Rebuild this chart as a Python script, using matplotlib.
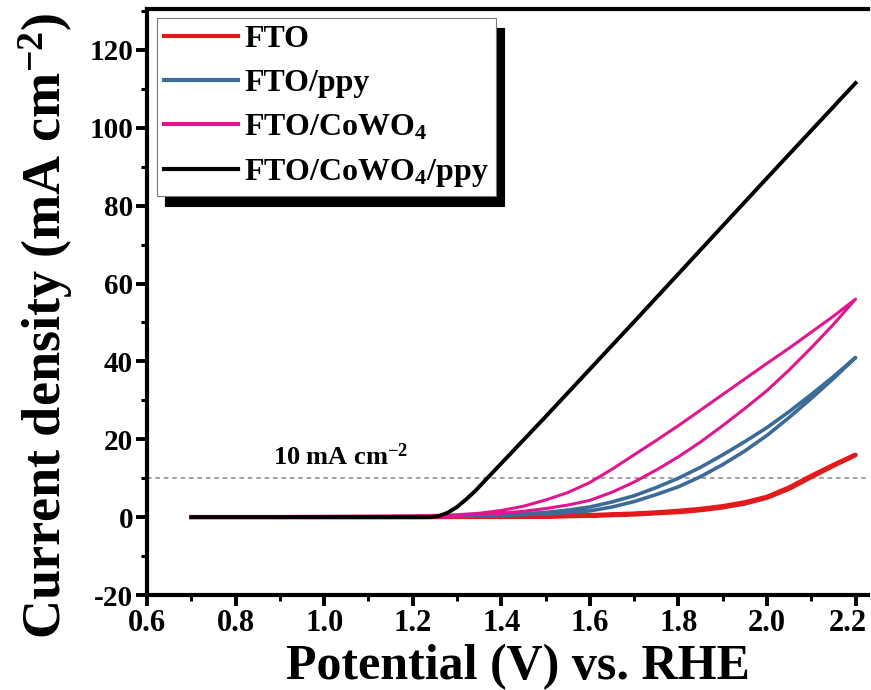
import matplotlib
matplotlib.use("Agg")
import matplotlib.pyplot as plt
from matplotlib.ticker import MultipleLocator
from matplotlib.transforms import ScaledTranslation

plt.rcParams['font.family'] = ['Liberation Serif', 'DejaVu Serif']
plt.rcParams['font.weight'] = 'bold'
plt.rcParams['mathtext.fontset'] = 'custom'
plt.rcParams['mathtext.rm'] = 'Liberation Serif:bold'
plt.rcParams['mathtext.bf'] = 'Liberation Serif:bold'
plt.rcParams['mathtext.it'] = 'Liberation Serif:bold:italic'

# ---- data ----
fto_fwd_x = [0.7, 1.0, 1.2, 1.4, 1.5, 1.6, 1.7, 1.75, 1.8, 1.85, 1.9, 1.95, 2.0, 2.05, 2.1, 2.15, 2.2]
fto_fwd_y = [0.0, 0.0, 0.0, 0.1, 0.25, 0.5, 0.9, 1.2, 1.6, 2.1, 2.8, 3.8, 5.2, 7.6, 10.6, 13.4, 16.0]
fto_rev_x = [2.2, 2.15, 2.1, 2.05, 2.0, 1.95, 1.9, 1.85, 1.8, 1.7, 1.6, 1.5, 1.4]
fto_rev_y = [16.0, 13.2, 10.3, 7.3, 5.0, 3.5, 2.5, 1.8, 1.3, 0.7, 0.35, 0.15, 0.05]

ppy_fwd_x = [0.7, 1.0, 1.2, 1.3, 1.4, 1.45, 1.5, 1.55, 1.6, 1.65, 1.7, 1.75, 1.8, 1.85, 1.9, 1.95, 2.0, 2.05, 2.1, 2.15, 2.2]
ppy_fwd_y = [0.0, 0.1, 0.15, 0.2, 0.4, 0.6, 0.85, 1.15, 1.6, 2.6, 4.0, 5.8, 7.8, 10.4, 13.5, 17.0, 21.0, 25.6, 30.5, 35.6, 41.0]
ppy_rev_x = [2.2, 2.15, 2.1, 2.05, 2.0, 1.95, 1.9, 1.85, 1.8, 1.75, 1.7, 1.65, 1.6, 1.55, 1.5, 1.45, 1.4, 1.35, 1.3]
ppy_rev_y = [41.0, 36.1, 31.5, 27.1, 23.0, 19.4, 16.0, 12.8, 10.0, 7.6, 5.5, 3.9, 2.6, 1.8, 1.2, 0.85, 0.6, 0.45, 0.3]

cowo_fwd_x = [0.73, 1.0, 1.2, 1.3, 1.35, 1.4, 1.45, 1.5, 1.55, 1.6, 1.65, 1.7, 1.75, 1.8, 1.85, 1.9, 1.95, 2.0, 2.05, 2.1, 2.15, 2.2]
cowo_fwd_y = [0.0, 0.1, 0.2, 0.4, 0.7, 1.0, 1.5, 2.2, 3.1, 4.3, 6.4, 9.0, 12.1, 15.5, 19.3, 23.5, 27.9, 32.5, 37.8, 43.5, 49.5, 56.0]
cowo_rev_x = [2.2, 2.15, 2.1, 2.05, 2.0, 1.95, 1.9, 1.85, 1.8, 1.75, 1.7, 1.65, 1.6, 1.55, 1.5, 1.45, 1.4, 1.35, 1.3, 1.2, 1.0, 0.73]
cowo_rev_y = [56.0, 51.6, 47.5, 43.4, 39.5, 35.5, 31.5, 27.5, 23.5, 19.7, 16.0, 12.3, 8.9, 6.3, 4.4, 2.8, 1.7, 1.0, 0.6, 0.3, 0.2, 0.1]

blk_x = [0.7, 1.0, 1.2, 1.24, 1.26, 1.28, 1.30, 1.32, 1.34, 1.36, 1.38, 1.40, 1.45, 1.5, 1.6, 1.7, 1.8, 1.9, 2.0, 2.1, 2.2]
blk_y = [0.0, 0.0, 0.0, 0.0, 0.3, 1.2, 2.6, 4.5, 6.6, 9.0, 11.4, 13.8, 19.8, 25.8, 38.0, 50.2, 62.5, 74.8, 87.1, 99.3, 111.5]

labels = ['FTO', 'FTO/ppy', 'FTO/CoWO$_{\\mathbf{4}}$', 'FTO/CoWO$_{\\mathbf{4}}$/ppy']
colors = ['#e31a1c', '#3d6b98', '#e0168f', '#000000']
ref_level = 10

x_ticks = [0.6, 0.8, 1.0, 1.2, 1.4, 1.6, 1.8, 2.0, 2.2]
y_ticks = [-20, 0, 20, 40, 60, 80, 100, 120]

fig = plt.figure(figsize=(8.71, 6.90), dpi=100)
ax = fig.add_axes([147/871, 1-595/690, (868-147)/871, (595-9)/690])

ax.axhline(ref_level, color='#888888', lw=1.1, ls=(0, (3, 2.5)), zorder=1)

ax.plot(fto_fwd_x + fto_rev_x, fto_fwd_y + fto_rev_y, color=colors[0], lw=3.2,
        label=labels[0], zorder=3, solid_joinstyle='round')
ax.plot(ppy_fwd_x + ppy_rev_x, ppy_fwd_y + ppy_rev_y, color=colors[1], lw=2.6,
        label=labels[1], zorder=3, solid_joinstyle='round')
ax.plot(cowo_fwd_x + cowo_rev_x, cowo_fwd_y + cowo_rev_y, color=colors[2], lw=2.2,
        label=labels[2], zorder=4, solid_joinstyle='round')
ax.plot(blk_x, blk_y, color=colors[3], lw=2.8, label=labels[3], zorder=5,
        solid_joinstyle='round')

ax.text(0.885, 13.3, '10 mA cm$^{\\mathbf{-2}}$', fontsize=19, fontweight='bold')

ax.set_xlim(0.6, 2.228)
ax.set_ylim(-20, 130.5)
ax.set_xticks(x_ticks)
ax.set_yticks(y_ticks)
ax.set_xticklabels([f'{v:.1f}' for v in x_ticks])
ax.set_yticklabels([str(v) for v in y_ticks])
ax.xaxis.set_minor_locator(MultipleLocator(0.1))
ax.yaxis.set_minor_locator(MultipleLocator(10))
ax.tick_params(which='major', direction='out', length=8, width=2.8, pad=2)
ax.tick_params(axis='x', which='major', labelsize=22)
ax.tick_params(axis='y', which='major', labelsize=21)
ax.tick_params(which='minor', direction='out', length=4.5, width=2.2)
ax.tick_params(top=False, right=False)
for side in ['left', 'bottom', 'top']:
    ax.spines[side].set_linewidth(3)
ax.spines['right'].set_visible(False)

# keep the last x tick label inside the canvas
last_lbl = ax.get_xticklabels()[-1]
last_lbl.set_transform(last_lbl.get_transform() + ScaledTranslation(-6/72, 0, fig.dpi_scale_trans))

xl = ax.set_xlabel('Potential (V) vs. RHE', fontsize=36, fontweight='bold')
xl.set_va('baseline')
ax.xaxis.set_label_coords(0.515, -0.143)
ax.set_ylabel('Current density (mA cm$^{\\mathbf{-2}}$)', fontsize=39, fontweight='bold')
ax.yaxis.set_label_coords(-0.10, 0.459)

leg = ax.legend(loc='upper left', bbox_to_anchor=(0.014, 0.985), fontsize=23,
                handlelength=2.3, handletextpad=0.2, labelspacing=0.46,
                borderpad=0.22, borderaxespad=0, fancybox=False,
                shadow={'color': 'black', 'alpha': 1, 'ox': 6, 'oy': -7})
leg.get_frame().set_edgecolor('#777777')
leg.get_frame().set_linewidth(0.8)
for line in leg.get_lines():
    line.set_linewidth(3)

fig.savefig('out.png', dpi=100)
